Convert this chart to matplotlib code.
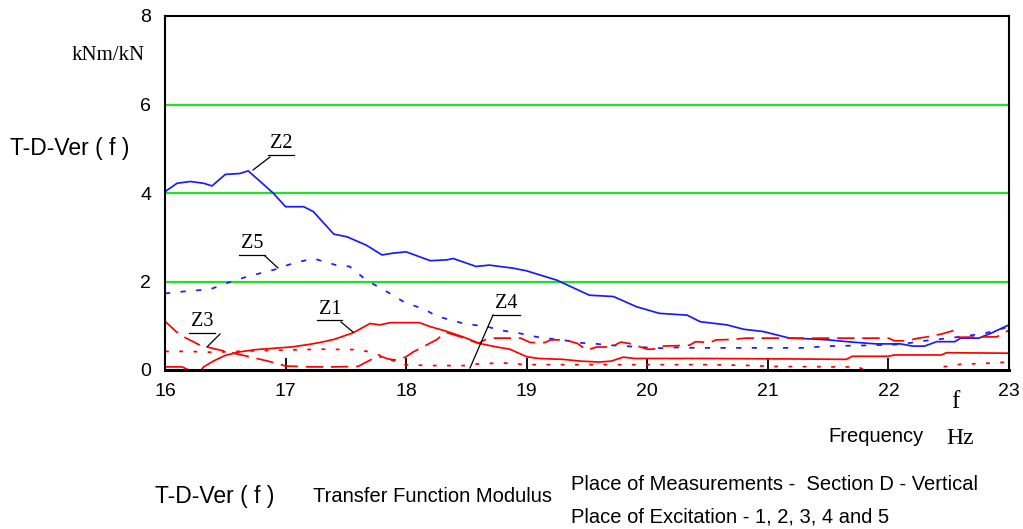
import matplotlib
matplotlib.use("Agg")
import matplotlib.pyplot as plt

# Transfer function modulus T-D-Ver(f), five excitation places Z1..Z5
z1_f = [16.0, 16.14, 16.2, 16.3, 16.32, 16.4, 16.5, 16.62, 16.75, 16.9, 17.05, 17.2, 17.3, 17.4,
        17.56, 17.7, 17.78, 17.87, 18.11, 18.2, 18.34, 18.47, 18.61, 18.75, 18.86, 19.0, 19.1,
        19.3, 19.45, 19.6, 19.7, 19.8, 19.9, 20.5, 21.2, 21.65, 21.7, 22.0, 22.05, 22.44, 22.48, 23.0]
z1_v = [0.07, 0.07, 0.0, 0.0, 0.07, 0.2, 0.33, 0.41, 0.46, 0.49, 0.52, 0.58, 0.63, 0.69,
        0.84, 1.05, 1.02, 1.07, 1.07, 0.98, 0.87, 0.75, 0.60, 0.52, 0.47, 0.30, 0.26,
        0.24, 0.20, 0.18, 0.20, 0.29, 0.26, 0.26, 0.25, 0.24, 0.31, 0.31, 0.34, 0.34, 0.39, 0.38]

z2_f = [16.0, 16.1, 16.21, 16.32, 16.39, 16.5, 16.62, 16.69, 16.79, 16.9, 17.0, 17.15, 17.23,
        17.4, 17.51, 17.67, 17.8, 17.89, 18.0, 18.2, 18.34, 18.39, 18.58, 18.69, 18.89, 19.0,
        19.25, 19.52, 19.72, 19.91, 20.1, 20.33, 20.44, 20.66, 20.8, 20.96, 21.18, 21.38, 21.5,
        21.7, 21.9, 22.1, 22.2, 22.3, 22.4, 22.55, 22.6, 22.75, 22.85, 23.0]
z2_v = [4.03, 4.22, 4.26, 4.22, 4.16, 4.42, 4.44, 4.50, 4.26, 3.99, 3.69, 3.69, 3.58,
        3.07, 3.01, 2.82, 2.60, 2.64, 2.67, 2.47, 2.49, 2.52, 2.34, 2.37, 2.30, 2.24,
        2.03, 1.69, 1.66, 1.43, 1.28, 1.24, 1.09, 1.02, 0.92, 0.87, 0.72, 0.70, 0.68,
        0.63, 0.59, 0.59, 0.54, 0.54, 0.64, 0.64, 0.72, 0.72, 0.83, 1.02]

z3_f = [16.0, 16.12, 16.29, 16.5, 16.7, 16.87, 17.0, 17.2, 17.4, 17.6, 17.72, 17.8, 17.85,
        17.93, 18.0, 18.06, 18.25, 18.33, 18.45, 18.6, 18.68, 18.95, 19.03, 19.15, 19.2, 19.32,
        19.42, 19.5, 19.58, 19.7, 19.78, 19.85, 19.92, 20.0, 20.05, 20.12, 20.25, 20.35, 20.4,
        20.52, 20.57, 20.7, 20.82, 21.4, 22.0, 22.05, 22.15, 22.25, 22.35, 22.45, 22.55, 22.58,
        22.9, 23.0]
z3_v = [1.1, 0.8, 0.56, 0.42, 0.3, 0.19, 0.09, 0.07, 0.07, 0.08, 0.25, 0.3, 0.25,
        0.22, 0.3, 0.41, 0.68, 0.85, 0.75, 0.6, 0.72, 0.72, 0.62, 0.62, 0.68, 0.68,
        0.6, 0.45, 0.52, 0.52, 0.63, 0.6, 0.54, 0.47, 0.47, 0.54, 0.55, 0.56, 0.64,
        0.62, 0.68, 0.69, 0.72, 0.72, 0.72, 0.66, 0.66, 0.72, 0.76, 0.82, 0.9, 0.74,
        0.75, 0.9]

z4_f = [16.0, 16.2, 16.4, 16.7, 17.0, 17.3, 17.6, 17.73, 17.85, 17.98, 18.2, 18.5, 18.6,
        18.8, 19.0, 19.5, 20.0, 20.5, 20.9, 21.0, 21.6, 21.75, 21.8, 22.4, 22.45, 22.6, 22.8, 23.0]
z4_v = [0.42, 0.42, 0.40, 0.43, 0.45, 0.47, 0.46, 0.39, 0.25, 0.12, 0.10, 0.10, 0.14,
        0.16, 0.12, 0.12, 0.12, 0.12, 0.10, 0.08, 0.07, 0.07, 0.0, 0.0, 0.07, 0.13, 0.15, 0.18]

z5_f = [16.0, 16.21, 16.37, 16.51, 16.68, 16.91, 17.06, 17.23, 17.42, 17.53, 17.67, 17.84,
        17.98, 18.16, 18.25, 18.42, 18.5, 18.67, 18.78, 18.94, 19.04, 19.14, 19.3, 19.41, 19.58,
        19.69, 19.88, 20.05, 20.16, 20.24, 20.4, 21.0, 21.3, 21.5, 21.9, 22.1, 22.2, 22.3, 22.5,
        22.65, 22.8, 22.9, 23.0]
z5_v = [1.73, 1.79, 1.82, 1.96, 2.11, 2.27, 2.41, 2.52, 2.37, 2.34, 2.03, 1.77,
        1.54, 1.36, 1.22, 1.09, 1.04, 0.98, 0.90, 0.83, 0.77, 0.72, 0.68, 0.62, 0.59,
        0.56, 0.53, 0.50, 0.49, 0.51, 0.50, 0.50, 0.50, 0.54, 0.56, 0.58, 0.62, 0.66, 0.72,
        0.77, 0.83, 0.90, 0.98]

x_ticks = [16, 17, 18, 19, 20, 21, 22, 23]
y_ticks = [0, 2, 4, 6, 8]

RED = '#ff0000'
BLUE = '#1a1aff'
GREEN = '#22e022'

W, H = 1023, 529
fig = plt.figure(figsize=(W / 100, H / 100), dpi=100)
ax = fig.add_axes([165 / W, 1 - 370 / H, (1009 - 165) / W, (370 - 16) / H])

ax.set_xlim(16, 23)
ax.set_ylim(0, 8)

for g in [2, 4, 6]:
    ax.axhline(g, color=GREEN, lw=1.6, zorder=1)

ax.plot(z2_f, z2_v, color=BLUE, lw=1.25, zorder=3)
ax.plot(z5_f, z5_v, color=BLUE, lw=1.25, linestyle=(0, (3, 6)), zorder=3)
ax.plot(z1_f, z1_v, color=RED, lw=1.25, zorder=3)
ax.plot(z3_f, z3_v, color=RED, lw=1.25, linestyle=(0, (10, 4.5)), zorder=3)
ax.plot(z4_f, z4_v, color=RED, lw=1.25, linestyle=(0, (2.2, 6)), zorder=3)

for s in ax.spines.values():
    s.set_linewidth(1.5)
    s.set_zorder(4)
ax.spines['bottom'].set_linewidth(2.2)

ax.set_xticks(x_ticks)
ax.set_yticks(y_ticks)
ax.tick_params(axis='x', direction='in', length=9, width=1.3, pad=9, labelsize=14)
ax.tick_params(axis='y', length=0, pad=10, labelsize=14)
for lab in ax.get_xticklabels() + ax.get_yticklabels():
    lab.set_fontfamily('Liberation Sans')


def px(xp, yp):
    # pixel position in the picture -> data coordinates of the axes
    return (16 + (xp - 165) / (844 / 7), (370 - yp) / (354 / 8))


def label(name, text_xy, ul, leader):
    tx, ty = px(*text_xy)
    ax.text(tx, ty, name, fontsize=14.5, family='Liberation Serif', ha='center', va='center',
            zorder=5)
    (x0, y0), (x1, y1) = px(ul[0], ul[2]), px(ul[1], ul[2])
    ax.plot([x0, x1], [y0, y1], color='black', lw=0.9, zorder=5, clip_on=False)
    (x0, y0), (x1, y1) = px(*leader[0]), px(*leader[1])
    ax.plot([x0, x1], [y0, y1], color='black', lw=0.9, zorder=5, clip_on=False)


label('Z2', (281, 144), (268, 294, 155), ((270, 157), (253, 170)))
label('Z5', (252, 243), (239, 265, 255), ((265, 256), (278, 268)))
label('Z1', (330, 309), (317, 342, 320), ((341, 322), (353, 332)))
label('Z3', (202, 322), (189, 215, 333), ((220, 334), (207, 347)))
label('Z4', (506, 303), (492, 520, 315), ((493, 315), (470, 368)))


def ftext(x, y, s, **kw):
    fig.text(x / W, 1 - y / H, s, **kw)


ftext(108, 56, 'kNm/kN', fontsize=15, family='Liberation Serif', ha='center', va='center')
ftext(10, 148, 'T-D-Ver ( f )', fontsize=16.5, family='Liberation Sans', ha='left', va='center')
ftext(955, 402, 'f', fontsize=18, family='Liberation Serif', ha='center', va='center')
ftext(960, 438, 'Hz', fontsize=17, family='Liberation Serif', ha='center', va='center')
ftext(876, 437, 'Frequency', fontsize=14.5, family='Liberation Sans', ha='center', va='center')
ftext(155, 496, 'T-D-Ver ( f )', fontsize=16.5, family='Liberation Sans', ha='left', va='center')
ftext(313, 497, 'Transfer Function Modulus', fontsize=14.5, family='Liberation Sans',
      ha='left', va='center')
ftext(571, 485, 'Place of Measurements -  Section D - Vertical', fontsize=14.5,
      family='Liberation Sans', ha='left', va='center')
ftext(571, 517, 'Place of Excitation - 1, 2, 3, 4 and 5', fontsize=14.5,
      family='Liberation Sans', ha='left', va='center')

fig.savefig('out.png', dpi=100)
